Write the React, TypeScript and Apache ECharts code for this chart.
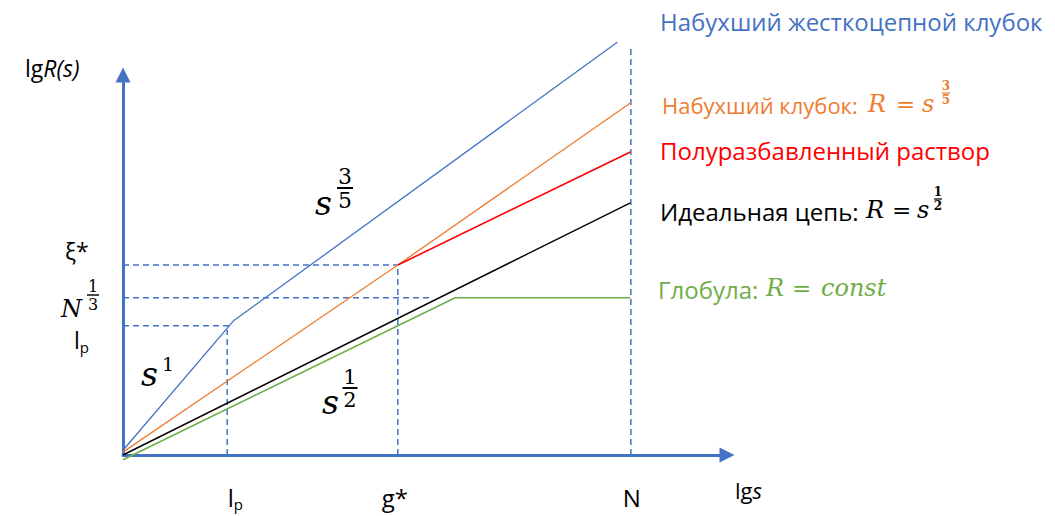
import React, { useEffect, useRef } from "react";
import * as echarts from "echarts";

const BLUE = "#4472C4";
const ORANGE = "#ED7D31";
const RED = "#FF0000";
const BLACK = "#000000";
const GREEN = "#70AD47";

const SANS = '"Open Sans", "Noto Sans", sans-serif';
const SERIF = '"DejaVu Serif", "Liberation Serif", serif';

// x tick labels (log s): l_p, g*, N
const xTickValues = [2.23, 5.4, 10.11];
const xTickLabels = ["{l|l}{p|p}", "{n|g*}", "{n|N}"];

// curves, [lg s, lg R]
const rigidSwollen = [[0, 0.1], [2.19, 2.82], [9.82, 8.69]];
const swollenCoil = [[0, 0.06], [5.46, 4.0], [10.08, 7.41]];
const semiDilute = [[5.46, 4.0], [10.08, 6.38]];
const idealChain = [[0, 0], [10.08, 5.31]];
const globule = [[0, -0.1], [6.6, 3.31], [10.08, 3.31]];

// dashed guide lines
const guideXi = [[0, 4.0], [5.46, 4.0]];
const guideN13 = [[0, 3.31], [6.14, 3.31]];
const guideLpH = [[0, 2.72], [2.19, 2.72]];
const guideLpV = [[2.07, 0], [2.07, 2.63]];
const guideGV = [[5.46, 0], [5.46, 4.0]];
const guideNV = [[10.09, 0], [10.09, 8.57]];

function frac(cx: number, barY: number, num: string, den: string, size: number, color: string, barW: number, weight = "normal") {
  const font = `${weight} ${size}px ${SERIF}`;
  return {
    type: "group",
    children: [
      { type: "text", style: { text: num, x: cx, y: barY - 1, align: "center", textAlign: "center", verticalAlign: "bottom", textVerticalAlign: "bottom", font, fill: color } },
      { type: "line", shape: { x1: cx - barW / 2, y1: barY, x2: cx + barW / 2, y2: barY }, style: { stroke: color, lineWidth: Math.max(1.2, size / 11) } },
      { type: "text", style: { text: den, x: cx, y: barY + 1, align: "center", textAlign: "center", verticalAlign: "top", textVerticalAlign: "top", font, fill: color } },
    ],
  };
}

function txt(text: string, x: number, y: number, font: string, color: string, align = "left") {
  return { type: "text", style: { text, x, y, font, fill: color, align, textAlign: align, verticalAlign: "middle", textVerticalAlign: "middle" } };
}

function lineSeries(name: string, data: number[][], color: string, width: number, dashed = false) {
  return {
    name,
    type: "line",
    data,
    showSymbol: false,
    symbol: "none",
    clip: false,
    silent: true,
    lineStyle: { color, width, type: dashed ? [6, 4] : "solid" },
    z: dashed ? 1 : 3,
  };
}

export default function App() {
  const ref = useRef<HTMLDivElement>(null);
  useEffect(() => {
    if (!ref.current) return;
    const chart = echarts.init(ref.current, undefined, { renderer: "svg" });
    const mathI = `italic 24px ${SERIF}`;
    const mathN = `normal 23px ${SERIF}`;
    const legendFont = `24px ${SANS}`;
    const legendFontSmall = `22px ${SANS}`;
    chart.setOption({
      animation: false,
      backgroundColor: "#ffffff",
      grid: { left: 123, right: 328, top: 75, bottom: 61 },
      xAxis: {
        type: "value",
        min: 0,
        max: 12,
        splitLine: { show: false },
        axisTick: { show: false },
        axisLine: { show: true, lineStyle: { color: BLUE, width: 3 }, symbol: ["none", "triangle"], symbolSize: [15, 15] },
        axisLabel: {
          customValues: xTickValues,
          margin: 28,
          formatter: (v: number) => {
            let best = 0;
            xTickValues.forEach((t, i) => { if (Math.abs(t - v) < Math.abs(xTickValues[best] - v)) best = i; });
            return xTickLabels[best];
          },
          rich: {
            l: { fontFamily: SANS, fontSize: 24, lineHeight: 28, color: BLACK },
            p: { fontFamily: SANS, fontSize: 15, lineHeight: 14, verticalAlign: "bottom", color: BLACK },
            n: { fontFamily: SANS, fontSize: 24, lineHeight: 28, color: BLACK },
          },
        },
      },
      yAxis: {
        type: "value",
        min: 0,
        max: 8,
        splitLine: { show: false },
        axisTick: { show: false },
        axisLabel: { show: false },
        axisLine: { show: true, lineStyle: { color: BLUE, width: 3 }, symbol: ["none", "triangle"], symbolSize: [15, 15] },
      },
      series: [
        lineSeries("guideXi", guideXi, BLUE, 1.5, true),
        lineSeries("guideN13", guideN13, BLUE, 1.5, true),
        lineSeries("guideLpH", guideLpH, BLUE, 1.5, true),
        lineSeries("guideLpV", guideLpV, BLUE, 1.5, true),
        lineSeries("guideGV", guideGV, BLUE, 1.5, true),
        lineSeries("guideNV", guideNV, BLUE, 1.5, true),
        lineSeries("Набухший жесткоцепной клубок", rigidSwollen, BLUE, 1.3),
        lineSeries("Набухший клубок", swollenCoil, ORANGE, 1.3),
        lineSeries("Полуразбавленный раствор", semiDilute, RED, 1.6),
        lineSeries("Идеальная цепь", idealChain, BLACK, 1.4),
        lineSeries("Глобула", globule, GREEN, 1.6),
      ],
      graphic: [
        // axis names
        {
          type: "text",
          style: {
            text: "{a|lg}{b|R(s)}", x: 25, y: 68, verticalAlign: "middle", textVerticalAlign: "middle",
            rich: { a: { fontFamily: SANS, fontSize: 23, fill: BLACK, color: BLACK }, b: { fontFamily: SANS, fontStyle: "italic", fontSize: 23, fill: BLACK, color: BLACK } },
          },
        },
        {
          type: "text",
          style: {
            text: "{a|lg}{b|s}", x: 735, y: 490, verticalAlign: "middle", textVerticalAlign: "middle",
            rich: { a: { fontFamily: SANS, fontSize: 22, fill: BLACK, color: BLACK }, b: { fontFamily: SANS, fontStyle: "italic", fontSize: 22, fill: BLACK, color: BLACK } },
          },
        },
        // y-side labels
        txt("ξ*", 65, 251, `23px ${SANS}`, BLACK),
        txt("N", 61, 309, `italic 24px ${SERIF}`, BLACK),
        frac(93, 295, "1", "3", 16, BLACK, 12),
        {
          type: "text",
          style: {
            text: "{l|l}{p|p}", x: 74, y: 340, verticalAlign: "middle", textVerticalAlign: "middle",
            rich: { l: { fontFamily: SANS, fontSize: 23, lineHeight: 28, fill: BLACK, color: BLACK }, p: { fontFamily: SANS, fontSize: 15, lineHeight: 14, verticalAlign: "bottom", fill: BLACK, color: BLACK } },
          },
        },
        // slope annotations
        txt("s", 141, 374, `italic 33px ${SERIF}`, BLACK),
        txt("1", 162, 364, `normal 19px ${SERIF}`, BLACK),
        txt("s", 322, 402, `italic 33px ${SERIF}`, BLACK),
        frac(350, 388, "1", "2", 21, BLACK, 15),
        txt("s", 315, 203, `italic 33px ${SERIF}`, BLACK),
        frac(345, 188, "3", "5", 22, BLACK, 16),
        // legend texts
        txt("Набухший жесткоцепной клубок", 660, 21, legendFont, BLUE),
        txt("Набухший клубок:", 662, 105, legendFontSmall, ORANGE),
        txt("R", 868, 104, mathI, ORANGE),
        txt("=", 896, 104, mathN, ORANGE),
        txt("s", 922, 104, mathI, ORANGE),
        frac(946, 93, "3", "5", 12, ORANGE, 8, "bold"),
        txt("Полуразбавленный раствор", 660, 150, legendFont, RED),
        txt("Идеальная цепь:", 660, 211, legendFont, BLACK),
        txt("R", 866, 210, mathI, BLACK),
        txt("=", 892, 210, mathN, BLACK),
        txt("s", 917, 210, mathI, BLACK),
        frac(938, 199, "1", "2", 12, BLACK, 8, "bold"),
        txt("Глобула:", 658, 289, legendFont, GREEN),
        txt("R", 766, 288, mathI, GREEN),
        txt("=", 792, 288, mathN, GREEN),
        txt("const", 821, 288, mathI, GREEN),
      ],
    });
    return () => chart.dispose();
  }, []);
  return <div ref={ref} style={{ position: "fixed", left: 0, top: 0, width: 1055, height: 516 }} />;
}
